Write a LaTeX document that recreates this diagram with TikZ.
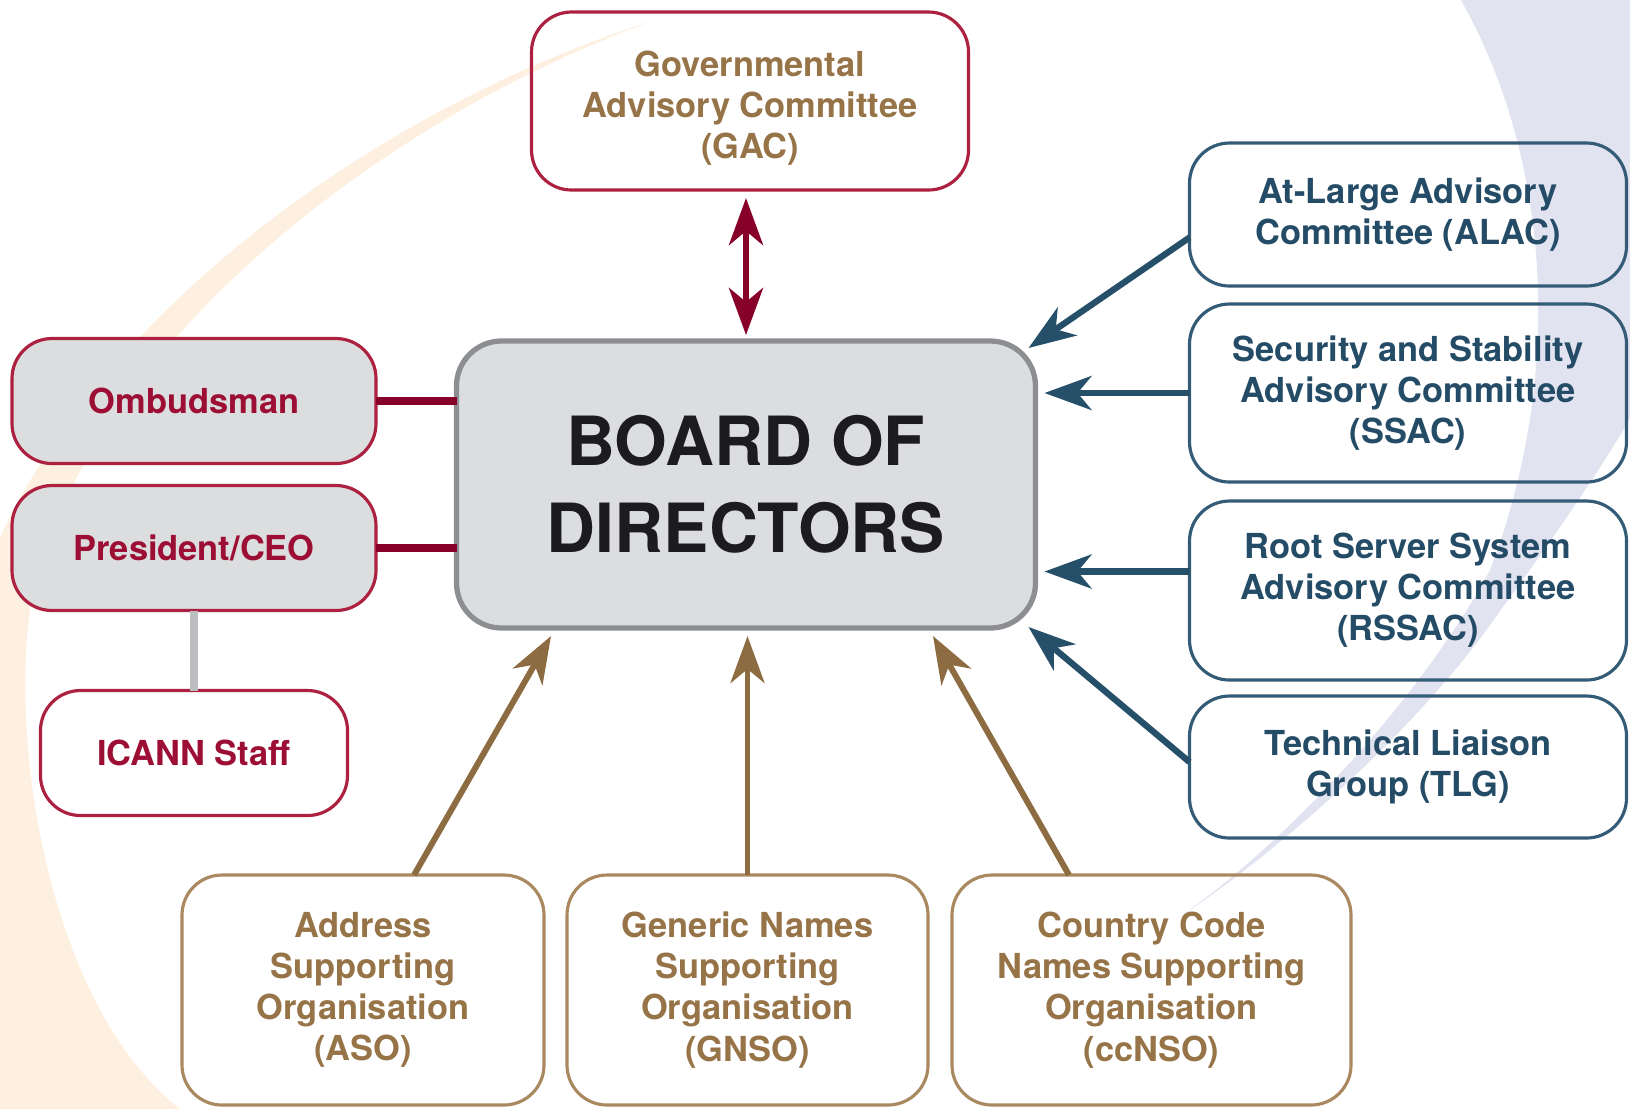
\documentclass[tikz,border=0pt]{standalone}
\usepackage{fontspec}
\setmainfont{TeX Gyre Heros}
\usepackage{tikz}
\usetikzlibrary{positioning, arrows.meta}
\definecolor{boardText}{RGB}{28, 28, 30}
\definecolor{boardFill}{RGB}{220, 221, 223}
\definecolor{boardLine}{RGB}{140, 142, 145}
\definecolor{gacRed}{RGB}{172, 32, 64}
\definecolor{staffRed}{RGB}{156, 14, 52}
\definecolor{linkRed}{RGB}{135, 0, 42}
\definecolor{soBrown}{RGB}{150, 116, 72}
\definecolor{soLine}{RGB}{170, 136, 96}
\definecolor{soArrow}{RGB}{142, 108, 66}
\definecolor{acNavy}{RGB}{36, 76, 102}
\definecolor{acLine}{RGB}{52, 92, 118}
\definecolor{acArrow}{RGB}{38, 80, 106}
\definecolor{staffLink}{RGB}{188, 190, 193}
\definecolor{peachBg}{RGB}{254, 240, 224}
\definecolor{lavenderBg}{RGB}{226, 227, 240}
\tikzset{
    org_box/.style={
        rectangle,
        rounded corners=4mm,
        line width=0.9pt,
        align=center,
        inner sep=0pt,
        outer sep=0pt,
        font=\bfseries\fontsize{9.8}{11.7}\selectfont
    },
    red_box/.style={
        org_box,
        draw=gacRed,
        text=staffRed
    },
    gac_text/.style={
        align=center,
        inner sep=0pt,
        text=soBrown,
        font=\bfseries\fontsize{9.8}{11.7}\selectfont
    },
    staff_box/.style={
        red_box,
        fill=boardFill,
        minimum width=36.4mm,
        minimum height=12.5mm
    },
    ac_box/.style={
        org_box,
        draw=acLine,
        text=acNavy,
        minimum width=43.7mm
    },
    so_box/.style={
        org_box,
        draw=soLine,
        text=soBrown,
        minimum height=23mm
    },
    board_node/.style={
        rectangle,
        rounded corners=4.5mm,
        draw=boardLine,
        line width=1.5pt,
        outer sep=0pt,
        fill=boardFill,
        text=boardText,
        minimum width=57.9mm,
        minimum height=28.7mm,
        align=center,
        font=\bfseries\fontsize{19.3}{24.8}\selectfont
    },
    red_link/.style={
        draw=linkRed,
        line width=2.4pt
    },
    staff_link/.style={
        draw=staffLink,
        line width=2pt
    },
    gac_edge/.style={
        <->,
        >={Stealth[length=4.7mm, width=3.4mm, inset=1.4mm]},
        draw=linkRed,
        line width=1.8pt
    },
    ac_edge/.style={
        ->,
        >={Stealth[length=4.7mm, width=3.4mm, inset=1.4mm]},
        draw=acArrow,
        line width=1.8pt
    },
    so_edge/.style={
        ->,
        >={Stealth[length=4.7mm, width=3.4mm, inset=1.4mm]},
        draw=soArrow,
        line width=1.7pt
    }
}
\begin{document}
\begin{tikzpicture}[x=0.1mm, y=-0.1mm]
    \useasboundingbox (0,0) rectangle (1630,1109);
    \begin{scope}
        \clip (0,0) rectangle (1630,1109);
        \fill[peachBg] (655,20) .. controls (380,120) and (120,330) .. (40,560)
            .. controls (0,700) and (40,1000) .. (180,1109) -- (-10,1109) -- (-10,560)
            .. controls (90,320) and (370,110) .. (655,20) -- cycle;
        \fill[lavenderBg] (1455,-10) .. controls (1545,140) and (1570,360) .. (1490,570)
            .. controls (1420,700) and (1280,850) .. (1172,922)
            .. controls (1290,845) and (1430,715) .. (1502,608)
            .. controls (1560,530) and (1620,440) .. (1640,400) -- (1640,-10) -- cycle;
    \end{scope}

    \node[board_node] (board) at (746,484.5) {BOARD OF\\DIRECTORS};
    \node[red_box, minimum width=43.7mm, minimum height=17.8mm] (gac) at (750,101) {};
    \node[gac_text] (gac_label) at ([yshift=-0.7mm]gac.center) {Governmental\\Advisory Committee\\(GAC)};

    \node[staff_box] (ombudsman) at (194,401) {Ombudsman};
    \node[staff_box, below=2.2mm of ombudsman] (president) {President/CEO};
    \node[red_box, minimum width=30.7mm, minimum height=12.5mm, below=8mm of president] (staff) {ICANN Staff};

    \node[ac_box, minimum height=14.3mm] (alac) at (1408,214.5) {At-Large Advisory\\Committee (ALAC)};
    \node[ac_box, minimum height=17.8mm, below=1.8mm of alac] (ssac)
        {Security and Stability\\Advisory Committee\\(SSAC)};
    \node[ac_box, minimum height=17.9mm, below=1.9mm of ssac] (rssac)
        {Root Server System\\Advisory Committee\\(RSSAC)};
    \node[ac_box, minimum height=14.2mm, below=1.6mm of rssac] (tlg) {Technical Liaison\\Group (TLG)};

    \node[so_box, minimum width=36.2mm] (aso) at (363,990) {Address\\Supporting\\Organisation\\(ASO)};
    \node[so_box, minimum width=36.1mm, right=2.3mm of aso] (gnso) {Generic Names\\Supporting\\Organisation\\(GNSO)};
    \node[so_box, minimum width=39.9mm, right=2.4mm of gnso] (ccnso)
        {Country Code\\Names Supporting\\Organisation\\(ccNSO)};

    \draw[gac_edge, shorten <=0.8mm, shorten >=0.6mm] (gac.south -| board.north) -- (board.north);
    \draw[red_link] (ombudsman.east) -- (ombudsman.east -| board.west);
    \draw[red_link] (president.east) -- (president.east -| board.west);
    \draw[staff_link] (president.south) -- (staff.north);

    \draw[ac_edge] ([yshift=-2.3mm]alac.west) -- ([shift={(-0.7mm,-0.7mm)}]board.north east);
    \draw[ac_edge, shorten >=0.9mm] (ssac.west) -- (ssac.west -| board.east);
    \draw[ac_edge, shorten >=0.9mm] ([yshift=1.9mm]rssac.west) -- ([yshift=1.9mm]rssac.west -| board.east);
    \draw[ac_edge] ([yshift=0.5mm]tlg.west) -- ([shift={(-0.7mm,0.1mm)}]board.south east);

    \draw[so_edge] ([xshift=5.1mm]aso.north) -- ([shift={(-19.5mm,-0.8mm)}]board.south);
    \draw[so_edge, shorten >=0.8mm] (gnso.north) -- (gnso.north |- board.south);
    \draw[so_edge] ([xshift=-8.25mm]ccnso.north) -- ([shift={(18.7mm,-0.8mm)}]board.south);
\end{tikzpicture}
\end{document}
